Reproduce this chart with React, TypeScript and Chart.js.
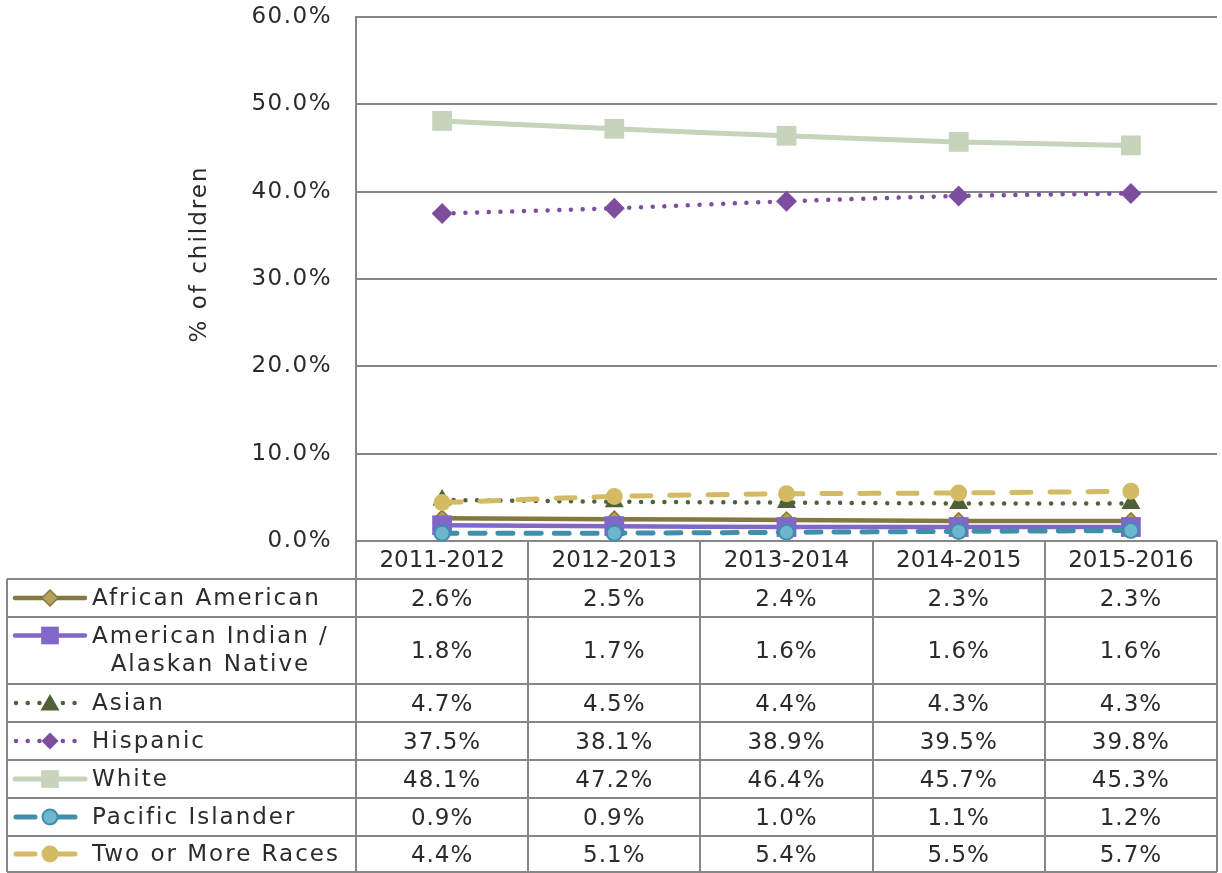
import React, { useEffect, useRef } from 'react';
import { Chart, registerables } from 'chart.js';

Chart.register(...registerables);

// ---------- data ----------
const categories = ['2011-2012', '2012-2013', '2013-2014', '2014-2015', '2015-2016'];
const seriesNames = [
  'African American',
  'American Indian /\nAlaskan Native',
  'Asian',
  'Hispanic',
  'White',
  'Pacific Islander',
  'Two or More Races',
];
const africanAmerican = [2.6, 2.5, 2.4, 2.3, 2.3];
const americanIndian = [1.8, 1.7, 1.6, 1.6, 1.6];
const asian = [4.7, 4.5, 4.4, 4.3, 4.3];
const hispanic = [37.5, 38.1, 38.9, 39.5, 39.8];
const white = [48.1, 47.2, 46.4, 45.7, 45.3];
const pacificIslander = [0.9, 0.9, 1.0, 1.1, 1.2];
const twoOrMore = [4.4, 5.1, 5.4, 5.5, 5.7];
const seriesValues = [africanAmerican, americanIndian, asian, hispanic, white, pacificIslander, twoOrMore];
const yMin = 0;
const yMax = 60;
const yStep = 10;
const yTitle = '% of children';

// ---------- styles ----------
const FONT = "'DejaVu Sans', sans-serif";
const TEXT = '#2b2b2b';
const GRID = '#868686';
type St = { color: string; fill: string; border: string; width: number; dash: number[]; legend: 'solid' | 'dash' | 'dot'; point: string; r: number; lr: number; bw: number };
const styles: St[] = [
  { color: '#86763F', fill: '#B4A15A', border: '#86763F', width: 4.5, dash: [], legend: 'solid', point: 'rectRot', r: 8, lr: 8, bw: 1.5 },
  { color: '#8068C9', fill: '#8068C9', border: '#8068C9', width: 4.5, dash: [], legend: 'solid', point: 'rect', r: 14, lr: 12.5, bw: 0 },
  { color: '#4F6138', fill: '#4F6138', border: '#4F6138', width: 4.5, dash: [0.01, 11.7], legend: 'dot', point: 'triangle', r: 11, lr: 11, bw: 0 },
  { color: '#7D4E9E', fill: '#7D4E9E', border: '#7D4E9E', width: 4.5, dash: [0.01, 11.7], legend: 'dot', point: 'rectRot', r: 10.5, lr: 8.5, bw: 0 },
  { color: '#C5D4BA', fill: '#C5D4BA', border: '#C5D4BA', width: 5, dash: [], legend: 'solid', point: 'rect', r: 14, lr: 12.5, bw: 0 },
  { color: '#3F8EAC', fill: '#6DB6CE', border: '#3F8EAC', width: 5, dash: [15, 13], legend: 'dash', point: 'circle', r: 7.5, lr: 7.5, bw: 2 },
  { color: '#D4BA63', fill: '#D4BA63', border: '#D4BA63', width: 5, dash: [19, 19], legend: 'dash', point: 'circle', r: 8.5, lr: 8.5, bw: 0 },
];

function marker(ctx: CanvasRenderingContext2D, style: string, x: number, y: number, r: number) {
  ctx.beginPath();
  if (style === 'circle') {
    ctx.arc(x, y, r, 0, Math.PI * 2);
  } else if (style === 'rect') {
    const s = r * Math.SQRT1_2;
    ctx.rect(x - s, y - s, 2 * s, 2 * s);
  } else if (style === 'rectRot') {
    ctx.moveTo(x - r, y);
    ctx.lineTo(x, y - r);
    ctx.lineTo(x + r, y);
    ctx.lineTo(x, y + r);
    ctx.closePath();
  } else if (style === 'triangle') {
    ctx.moveTo(x, y - r);
    ctx.lineTo(x + r * 0.866, y + r * 0.5);
    ctx.lineTo(x - r * 0.866, y + r * 0.5);
    ctx.closePath();
  }
}

const rowHeights = [38, 38, 67, 38, 38, 38, 38, 36];
const tableLeft = 7;

const tablePlugin = {
  id: 'dataTable',
  beforeDraw(chart: any) {
    (chart.ctx as any).letterSpacing = '1.5px';
  },
  afterDraw(chart: any) {
    const ctx: CanvasRenderingContext2D = chart.ctx;
    const area = chart.chartArea;
    const xs = chart.scales.x;
    const n = categories.length;
    const colW = (area.right - area.left) / n;
    const top = area.bottom;
    const ys: number[] = [top];
    rowHeights.forEach((h) => ys.push(ys[ys.length - 1] + h));
    const bottom = ys[ys.length - 1];

    ctx.save();
    // y-axis title
    (ctx as any).letterSpacing = '2px';
    ctx.fillStyle = TEXT;
    ctx.font = `23px ${FONT}`;
    ctx.textAlign = 'center';
    ctx.textBaseline = 'middle';
    ctx.save();
    ctx.translate(200, 254);
    ctx.rotate(-Math.PI / 2);
    ctx.fillText(yTitle, 0, 0);
    ctx.restore();

    // grid lines of table
    ctx.strokeStyle = GRID;
    ctx.lineWidth = 2;
    ctx.setLineDash([]);
    ctx.beginPath();
    for (let i = 0; i <= n; i++) {
      const x = Math.round(area.left + i * colW);
      ctx.moveTo(x, top);
      ctx.lineTo(x, bottom);
    }
    for (let r = 1; r < ys.length; r++) {
      ctx.moveTo(tableLeft, ys[r]);
      ctx.lineTo(area.right, ys[r]);
    }
    ctx.moveTo(tableLeft, ys[1]);
    ctx.lineTo(tableLeft, bottom);
    ctx.stroke();

    // header
    (ctx as any).letterSpacing = '0px';
    ctx.fillStyle = TEXT;
    ctx.textAlign = 'center';
    ctx.textBaseline = 'middle';
    categories.forEach((c, i) => {
      ctx.fillText(c, xs.getPixelForValue(i), (ys[0] + ys[1]) / 2 + 1);
    });

    // rows
    seriesNames.forEach((name, s) => {
      const y0 = ys[s + 1];
      const y1 = ys[s + 2];
      const yc = (y0 + y1) / 2;
      (ctx as any).letterSpacing = '1px';
      ctx.textAlign = 'center';
      ctx.fillStyle = TEXT;
      seriesValues[s].forEach((v, i) => {
        ctx.fillText(v.toFixed(1) + '%', xs.getPixelForValue(i), yc + 2);
      });
      // legend text
      (ctx as any).letterSpacing = '2px';
      const lines = name.split('\n');
      let ly = yc;
      if (lines.length === 2) {
        const w0 = ctx.measureText(lines[0]).width;
        const cx = 92 + w0 / 2;
        ctx.textAlign = 'center';
        ctx.fillText(lines[0], cx, yc - 13);
        ctx.fillText(lines[1], cx, yc + 15);
        ly = yc - 15;
      } else {
        ctx.textAlign = 'left';
        ctx.fillText(lines[0], 92, yc + 1);
      }
      // legend symbol
      const st = styles[s];
      ctx.strokeStyle = st.color;
      ctx.lineWidth = st.width;
      ctx.lineCap = 'round';
      ctx.beginPath();
      if (st.legend === 'solid') {
        ctx.setLineDash([]);
        ctx.moveTo(15, ly);
        ctx.lineTo(85, ly);
      } else if (st.legend === 'dash') {
        ctx.setLineDash([]);
        ctx.moveTo(16, ly);
        ctx.lineTo(35, ly);
        ctx.moveTo(58, ly);
        ctx.lineTo(75, ly);
      } else {
        ctx.setLineDash([0.01, 11.7]);
        ctx.moveTo(16, ly);
        ctx.lineTo(78, ly);
      }
      ctx.stroke();
      ctx.setLineDash([]);
      ctx.fillStyle = st.fill;
      ctx.strokeStyle = st.border;
      ctx.lineWidth = st.bw;
      marker(ctx, st.point, 50, ly + (st.point === 'triangle' ? 2 : 0), st.lr);
      ctx.fill();
      if (st.bw > 0) ctx.stroke();
    });
    ctx.restore();
  },
};

export default function App() {
  const ref = useRef<HTMLCanvasElement | null>(null);
  useEffect(() => {
    if (!ref.current) return;
    const nSeries = seriesNames.length;
    const chart = new Chart(ref.current, {
      type: 'line',
      data: {
        labels: categories,
        datasets: seriesValues.map((vals, s) => ({
          label: seriesNames[s].replace('\n', ' '),
          data: vals,
          borderColor: styles[s].color,
          borderWidth: styles[s].width,
          borderDash: styles[s].dash,
          borderCapStyle: 'round' as const,
          borderJoinStyle: 'round' as const,
          pointStyle: styles[s].point as any,
          pointRadius: styles[s].r,
          pointBackgroundColor: styles[s].fill,
          pointBorderColor: styles[s].border,
          pointBorderWidth: styles[s].bw,
          tension: 0.3,
          fill: false,
          clip: false as any,
          order: nSeries - s,
        })),
      },
      options: {
        responsive: false,
        animation: false,
        events: [],
        layout: { autoPadding: false, padding: { top: 17, left: 0, right: 5, bottom: 332 } },
        plugins: { legend: { display: false }, tooltip: { enabled: false }, title: { display: false } },
        scales: {
          x: {
            type: 'category',
            display: false,
            offset: true,
            afterFit: (scale: any) => {
              scale.paddingLeft = 0;
              scale.paddingRight = 0;
            },
          },
          y: {
            min: yMin,
            max: yMax,
            afterFit: (scale: any) => {
              scale.width = 356;
              scale.paddingTop = 0;
              scale.paddingBottom = 0;
              scale.paddingLeft = 0;
              scale.paddingRight = 0;
            },
            ticks: {
              stepSize: yStep,
              padding: 24,
              color: TEXT,
              font: { family: FONT, size: 23 },
              callback: (v: any) => Number(v).toFixed(1) + '%',
            },
            grid: { color: GRID, lineWidth: 2, drawTicks: false },
            border: { display: true, color: GRID, width: 2 },
          },
        },
      },
      plugins: [tablePlugin],
    });
    return () => chart.destroy();
  }, []);
  return (
    <div style={{ position: 'fixed', left: 0, top: 0, width: 1222, height: 873, background: '#fff' }}>
      <canvas ref={ref} width={1222} height={873} style={{ display: 'block' }} />
    </div>
  );
}
